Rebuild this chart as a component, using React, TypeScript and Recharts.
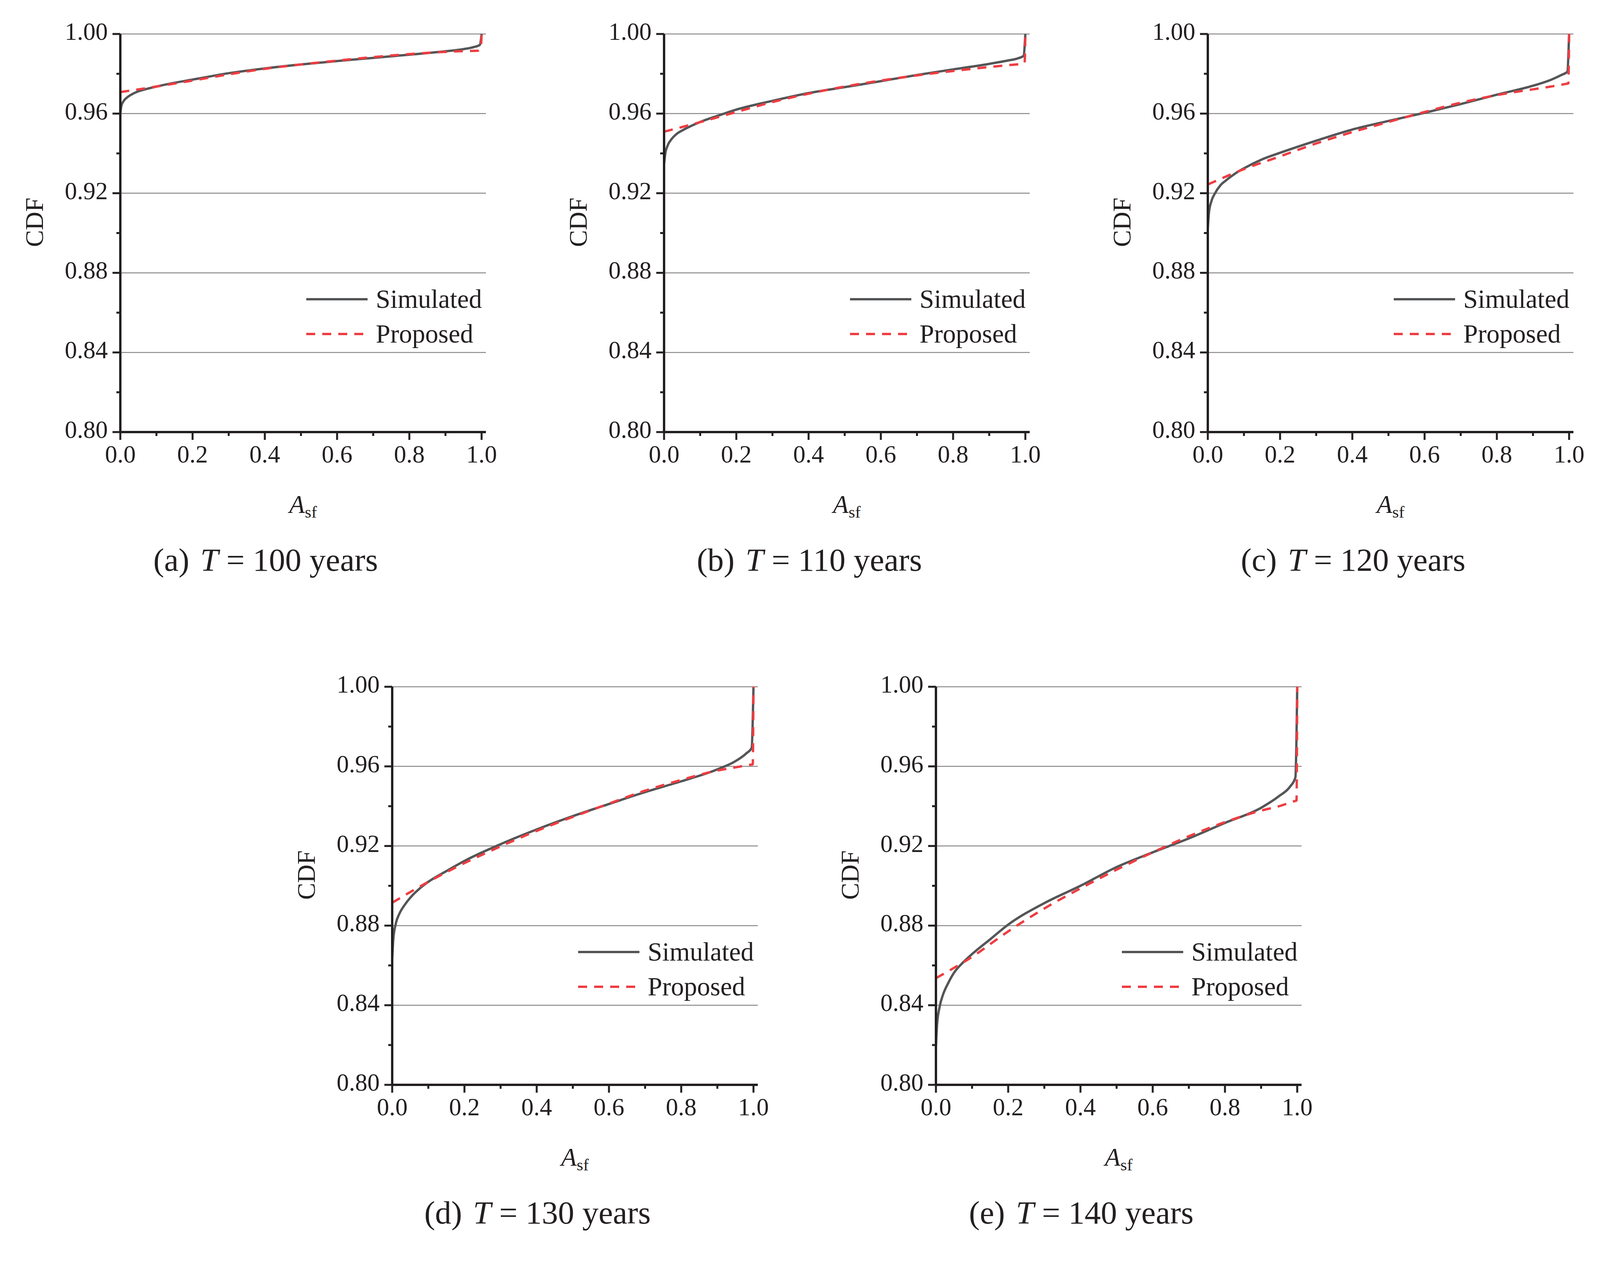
import React from 'react';
import { LineChart, Line, XAxis, YAxis, CartesianGrid, Legend } from 'recharts';

const INK = '#231f20';
const SIM_COLOR = '#545557';
const PROP_COLOR = '#ee3d42';
const FONT = "'Liberation Serif', 'Times New Roman', serif";

// axis ticks and grid
const X_TICKS = [0, 0.1, 0.2, 0.3, 0.4, 0.5, 0.6, 0.7, 0.8, 0.9, 1.0];
const Y_TICKS = [0.8, 0.82, 0.84, 0.86, 0.88, 0.9, 0.92, 0.94, 0.96, 0.98, 1.0];
const GRID_Y = [0.84, 0.88, 0.92, 0.96, 1.0];
const LEGEND_ORDER = ['Simulated', 'Proposed'];

// simulated CDF
const SIM_X = [0, 0.003, 0.01, 0.02, 0.035, 0.05, 0.075, 0.1, 0.15, 0.2, 0.3, 0.4, 0.5, 0.6, 0.7, 0.8, 0.9, 0.95, 0.98, 0.995, 1.0];
const SIM_100 = [0.96, 0.964, 0.9665, 0.9683, 0.97, 0.9712, 0.9725, 0.9736, 0.9755, 0.9771, 0.9803, 0.9827, 0.9847, 0.9864, 0.988, 0.9896, 0.9913, 0.9924, 0.9935, 0.9945, 1.0];
const SIM_110 = [0.9345, 0.9395, 0.944, 0.947, 0.9498, 0.9515, 0.9538, 0.9558, 0.959, 0.962, 0.9664, 0.9703, 0.9733, 0.9763, 0.9794, 0.9822, 0.985, 0.9866, 0.9878, 0.989, 1.0];
const SIM_120 = [0.9022, 0.91, 0.916, 0.92, 0.924, 0.9264, 0.9298, 0.9325, 0.937, 0.9403, 0.9464, 0.952, 0.9563, 0.9604, 0.9648, 0.9695, 0.974, 0.977, 0.9795, 0.981, 1.0];
const SIM_130 = [0.863, 0.873, 0.881, 0.886, 0.8905, 0.894, 0.8985, 0.902, 0.9074, 0.9125, 0.9209, 0.9283, 0.935, 0.9411, 0.9471, 0.9525, 0.9585, 0.9626, 0.9665, 0.9693, 1.0];
const SIM_140 = [0.8192, 0.83, 0.839, 0.8455, 0.8515, 0.8563, 0.8615, 0.8657, 0.8731, 0.8805, 0.8913, 0.9, 0.9094, 0.9168, 0.9238, 0.9316, 0.9392, 0.9451, 0.9498, 0.9545, 1.0];

// proposed CDF
const PROP_X = [0, 0.1, 0.2, 0.3, 0.4, 0.5, 0.6, 0.7, 0.8, 0.9, 0.95, 0.99, 0.998, 1.0];
const PROP_100 = [0.9708, 0.9736, 0.9766, 0.9797, 0.9825, 0.9847, 0.9866, 0.9884, 0.9899, 0.991, 0.9914, 0.9916, 0.9935, 1.0];
const PROP_110 = [0.9509, 0.9557, 0.9608, 0.9658, 0.97, 0.9736, 0.9766, 0.9792, 0.9814, 0.9834, 0.9843, 0.9851, 0.9855, 1.0];
const PROP_120 = [0.9244, 0.9321, 0.9385, 0.945, 0.9507, 0.9558, 0.9608, 0.9655, 0.9693, 0.9722, 0.9736, 0.9749, 0.9752, 1.0];
const PROP_130 = [0.8915, 0.902, 0.9114, 0.9198, 0.9276, 0.9346, 0.9413, 0.9478, 0.9532, 0.9579, 0.9595, 0.9608, 0.961, 1.0];
const PROP_140 = [0.8536, 0.8643, 0.8771, 0.8886, 0.8987, 0.9081, 0.9168, 0.9249, 0.932, 0.9378, 0.94, 0.9424, 0.9428, 1.0];

const TAGS = ['(a)', '(b)', '(c)', '(d)', '(e)'];
const YEARS = [100, 110, 120, 130, 140];
const SIM_SERIES = [SIM_100, SIM_110, SIM_120, SIM_130, SIM_140];
const PROP_SERIES = [PROP_100, PROP_110, PROP_120, PROP_130, PROP_140];

// page position of each plot area (x = 0 axis, y = 1.00 line)
const PLOT_POS = [
  { left: 308, top: 87 },
  { left: 1700, top: 87 },
  { left: 3092, top: 87 },
  { left: 1004, top: 1758 },
  { left: 2396, top: 1758 },
];

const UNIT_W = 925; // pixels from 0.0 to 1.0
const PLOT_W = Math.round(UNIT_W * 1.012);
const PLOT_H = 1019;
const AXIS_W = 300;
const AXIS_H = 300;
const TOP = 60;
const RIGHT = 40;
const CHART_W = AXIS_W + PLOT_W + RIGHT;
const CHART_H = TOP + PLOT_H + AXIS_H;

const toPoints = (xs: number[], ys: number[]) => xs.map((x, i) => ({ x, y: ys[i] }));

const XTick = (props: any) => {
  const { x, y, payload } = props;
  const major = Math.round(payload.value * 10) % 2 === 0;
  return (
    <g>
      <line x1={x} x2={x} y1={y} y2={y + (major ? 20 : 10)} stroke={INK} strokeWidth={5} />
      {major && (
        <text x={x} y={y + 78} textAnchor="middle" fontSize={63} fontFamily={FONT} fill={INK}>
          {payload.value.toFixed(1)}
        </text>
      )}
    </g>
  );
};

const YTick = (props: any) => {
  const { x, y, payload } = props;
  const major = Math.round(payload.value * 100) % 4 === 0;
  return (
    <g>
      <line x1={x - (major ? 20 : 10)} x2={x} y1={y} y2={y} stroke={INK} strokeWidth={5} />
      {major && (
        <text x={x - 32} y={y + 15} textAnchor="end" fontSize={63} fontFamily={FONT} fill={INK}>
          {payload.value.toFixed(2)}
        </text>
      )}
    </g>
  );
};

const CdfLabel = () => {
  const cx = AXIS_W - 198;
  const cy = TOP + 482;
  return (
    <text x={cx} y={cy} transform={`rotate(-90 ${cx} ${cy})`} textAnchor="middle" fontSize={65} fontFamily={FONT} fill={INK}>
      CDF
    </text>
  );
};

const AsfLabel = () => (
  <text x={AXIS_W + 468} y={TOP + 1226} textAnchor="middle" fontFamily={FONT} fill={INK}>
    <tspan fontSize={65} fontStyle="italic">A</tspan>
    <tspan fontSize={43} dy={12}>sf</tspan>
  </text>
);

const LegendBox = (props: any) => {
  const items = [...(props.payload || [])].sort(
    (a: any, b: any) => LEGEND_ORDER.indexOf(a.value) - LEGEND_ORDER.indexOf(b.value)
  );
  return (
    <div style={{ fontFamily: FONT, fontSize: 67, color: INK, lineHeight: '89px' }}>
      {items.map((it: any) => (
        <div key={it.value} style={{ display: 'flex', alignItems: 'center', height: 89 }}>
          <svg width={158} height={20} style={{ marginRight: 20 }}>
            <line
              x1={0}
              x2={157}
              y1={10}
              y2={10}
              stroke={it.color}
              strokeWidth={6}
              strokeDasharray={it.payload && it.payload.strokeDasharray}
            />
          </svg>
          <span>{it.value}</span>
        </div>
      ))}
    </div>
  );
};

const Panel = ({ idx }: { idx: number }) => {
  const pos = PLOT_POS[idx];
  const sim = toPoints(SIM_X, SIM_SERIES[idx]);
  const prop = toPoints(PROP_X, PROP_SERIES[idx]);
  const captionTop = TOP + 1374 - 110;
  return (
    <div
      style={{
        position: 'absolute',
        left: pos.left - AXIS_W - 8,
        top: pos.top - TOP - 8,
        width: CHART_W,
        height: CHART_H + 120,
      }}
    >
      <LineChart width={CHART_W} height={CHART_H} margin={{ top: TOP, right: RIGHT, left: 0, bottom: 0 }}>
        <CartesianGrid vertical={false} horizontalValues={GRID_Y} stroke="#8a8a8a" strokeWidth={2.5} />
        <XAxis
          type="number"
          dataKey="x"
          domain={[0, 1.012]}
          ticks={X_TICKS}
          interval={0}
          allowDataOverflow
          height={AXIS_H}
          tickSize={0}
          tickMargin={0}
          tickLine={false}
          tick={<XTick />}
          axisLine={{ stroke: INK, strokeWidth: 6 }}
          label={<AsfLabel />}
        />
        <YAxis
          type="number"
          domain={[0.8, 1.0]}
          ticks={Y_TICKS}
          interval={0}
          allowDataOverflow
          width={AXIS_W}
          tickSize={0}
          tickMargin={0}
          tickLine={false}
          tick={<YTick />}
          axisLine={{ stroke: INK, strokeWidth: 6 }}
          label={<CdfLabel />}
        />
        <Legend
          layout="vertical"
          align="center"
          verticalAlign="middle"
          content={<LegendBox />}
          wrapperStyle={{ left: AXIS_W + 476, top: TOP + 678 - 44, width: 480, height: 180 }}
        />
        <Line
          name="Simulated"
          data={sim}
          dataKey="y"
          type="monotone"
          stroke={SIM_COLOR}
          strokeWidth={6}
          dot={false}
          activeDot={false}
          isAnimationActive={false}
        />
        <Line
          name="Proposed"
          data={prop}
          dataKey="y"
          type="monotone"
          stroke={PROP_COLOR}
          strokeWidth={6}
          strokeDasharray="23 18"
          dot={false}
          activeDot={false}
          isAnimationActive={false}
        />
      </LineChart>
      <svg
        width={CHART_W}
        height={150}
        style={{ position: 'absolute', left: 0, top: captionTop, overflow: 'visible' }}
      >
        <text x={AXIS_W + 372} y={110} textAnchor="middle" fontSize={83} fontFamily={FONT} fill={INK}>
          {TAGS[idx]}
          <tspan dx={28} fontStyle="italic">T</tspan>
          <tspan> = {YEARS[idx]} years</tspan>
        </text>
      </svg>
    </div>
  );
};

export default function App() {
  return (
    <div style={{ position: 'relative', width: 4160, height: 3235, background: '#fff' }}>
      {TAGS.map((_, i) => (
        <Panel key={i} idx={i} />
      ))}
    </div>
  );
}
